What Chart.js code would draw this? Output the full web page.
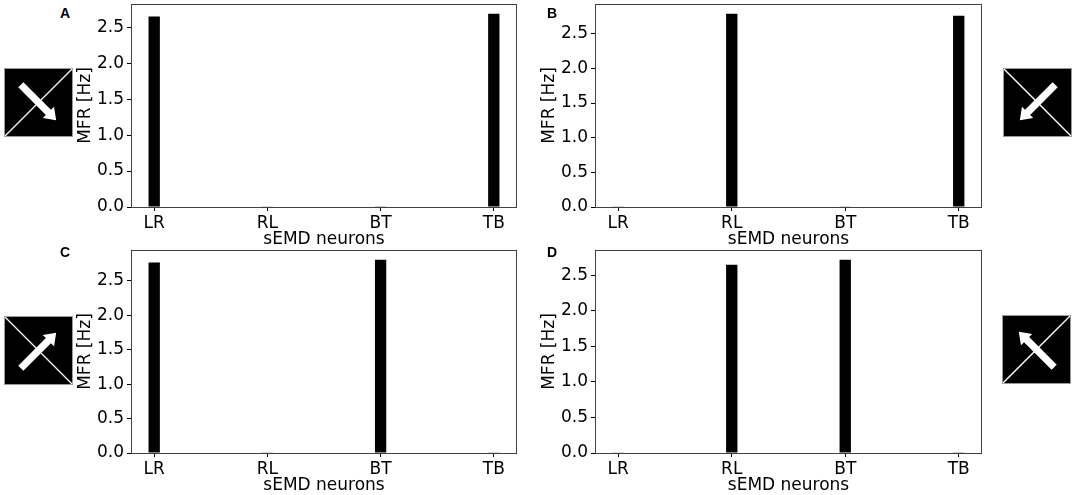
<!DOCTYPE html>
<html><head><meta charset="utf-8">
<script src="https://cdn.jsdelivr.net/npm/chart.js@4.4.1/dist/chart.umd.min.js"></script>
<style>
html,body{margin:0;padding:0;background:#fff;}
body{width:1076px;height:495px;position:relative;overflow:hidden;}
canvas{position:absolute;}
.lab{position:absolute;font-family:"Liberation Sans",Arial,sans-serif;font-weight:bold;font-size:14px;line-height:14px;color:#000;z-index:5;}
svg{position:absolute;}
</style></head><body>
<canvas id="cA" width="451" height="250" style="left:75px;top:0px"></canvas>
<canvas id="cB" width="452" height="250" style="left:539px;top:0px"></canvas>
<canvas id="cC" width="451" height="250" style="left:75px;top:246px"></canvas>
<canvas id="cD" width="452" height="250" style="left:539px;top:246px"></canvas>
<div class="lab" style="left:60px;top:6px">A</div>
<div class="lab" style="left:547px;top:6px">B</div>
<div class="lab" style="left:60px;top:245px">C</div>
<div class="lab" style="left:547px;top:245px">D</div>
<div id="icons"></div>
<script>
// ---- data ----
const categories = ['LR', 'RL', 'BT', 'TB'];
const valuesA = [2.65, 0.005, 0.01, 2.69];
const valuesB = [0.005, 2.79, 0.005, 2.76];
const valuesC = [2.77, 0.005, 2.81, 0.005];
const valuesD = [0.005, 2.65, 2.72, 0.01];
const yTickValues = [0, 0.5, 1.0, 1.5, 2.0, 2.5];
const yTitle = 'MFR [Hz]';
const xTitle = 'sEMD neurons';

const FONT = {family: '"DejaVu Sans", sans-serif', size: 17};

const framePlugin = {
  id: 'frame',
  afterDatasetsDraw(chart) {
    const {ctx, chartArea: a} = chart;
    ctx.save();
    ctx.strokeStyle = '#404040';
    ctx.lineWidth = 1;
    ctx.strokeRect(Math.round(a.left) + 0.5, Math.round(a.top) + 0.5,
                   Math.round(a.right - a.left) - 1, Math.round(a.bottom - a.top));
    ctx.restore();
  }
};

function makeChart(id, values) {
  const ymax = Math.max(...values) * 1.05;
  return new Chart(document.getElementById(id), {
    type: 'bar',
    data: {
      datasets: [{
        data: values.map((v, i) => ({x: i, y: v})),
        backgroundColor: '#000',
        borderWidth: 0,
        barPercentage: 0.1,
        categoryPercentage: 1.0
      }]
    },
    options: {
      responsive: false,
      animation: false,
      events: [],
      layout: {padding: {top: 4, right: 9, left: 0, bottom: 0}},
      plugins: {legend: {display: false}, tooltip: {enabled: false}},
      scales: {
        x: {
          type: 'linear',
          offset: false,
          min: -0.205,
          max: 3.205,
          afterBuildTicks: s => { s.ticks = categories.map((c, i) => ({value: i})); },
          afterFit: s => { s.height = 43; s.paddingLeft = 0; s.paddingRight = 0; },
          ticks: {
            callback: v => categories[v],
            font: FONT, color: '#000', padding: 2, maxRotation: 0, autoSkip: false
          },
          grid: {display: true, offset: false, drawOnChartArea: false, drawTicks: true, tickLength: 4, color: '#000'},
          border: {display: false},
          title: {display: true, text: xTitle, font: FONT, color: '#000', padding: 0}
        },
        y: {
          type: 'linear',
          min: 0,
          max: ymax,
          afterBuildTicks: s => { s.ticks = yTickValues.filter(v => v <= ymax).map(v => ({value: v})); },
          afterFit: s => { s.width = 56; s.paddingTop = 0; s.paddingBottom = 0; },
          ticks: {
            callback: v => v.toFixed(1),
            font: FONT, color: '#000', padding: 3
          },
          grid: {display: true, drawOnChartArea: false, drawTicks: true, tickLength: 4, color: '#000'},
          border: {display: false},
          title: {display: true, text: yTitle, font: FONT, color: '#000', padding: 0}
        }
      }
    },
    plugins: [framePlugin]
  });
}

makeChart('cA', valuesA);
makeChart('cB', valuesB);
makeChart('cC', valuesC);
makeChart('cD', valuesD);

// ---- direction icons (decorative) ----
function icon(left, top, size, diag, angle) {
  const ns = 'http://www.w3.org/2000/svg';
  const svg = document.createElementNS(ns, 'svg');
  svg.setAttribute('width', size + 2);
  svg.setAttribute('height', size + 2);
  svg.style.left = (left - 1) + 'px';
  svg.style.top = (top - 1) + 'px';
  const s = size;
  const line = diag === 'up'
    ? `<line x1="1" y1="${s+1}" x2="${s+1}" y2="1" stroke="#fff" stroke-width="1.3"/>`
    : `<line x1="1" y1="1" x2="${s+1}" y2="${s+1}" stroke="#fff" stroke-width="1.3"/>`;
  const c = s / 2 + 1;
  svg.innerHTML =
    `<rect x="0.5" y="0.5" width="${s+1}" height="${s+1}" fill="#000" stroke="#9a9a9a" stroke-width="1"/>` +
    line +
    `<g transform="translate(${c},${c}) rotate(${angle})">` +
    `<polygon points="-25,-3.6 14,-3.6 14,-8 25,0 14,8 14,3.6 -25,3.6" fill="#fff"/></g>`;
  document.getElementById('icons').appendChild(svg);
}
icon(5, 69, 67, 'up', 45);
icon(1004, 69, 67, 'down', 135);
icon(5, 317, 67, 'down', -45);
icon(1003, 316, 67, 'up', -135);
</script>
</body></html>
